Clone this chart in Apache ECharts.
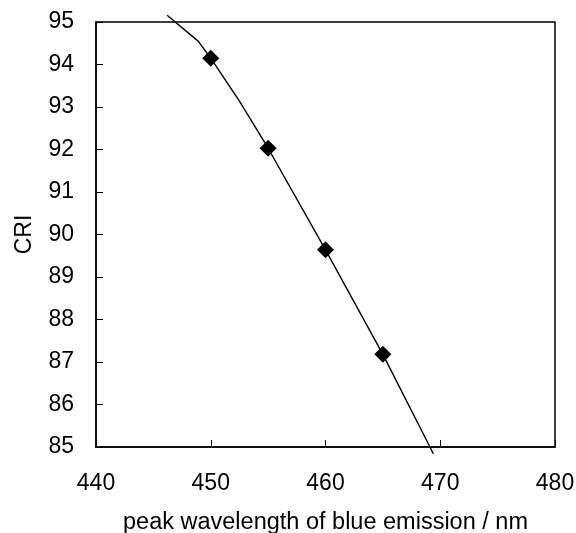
<!DOCTYPE html>
<html>
<head>
<meta charset="utf-8">
<script src="https://cdn.jsdelivr.net/npm/echarts@6/dist/echarts.min.js"></script>
<style>html,body{margin:0;padding:0;background:#fff}#c{width:576px;height:533px}</style>
</head>
<body>
<div id="c"></div>
<script>
// measured points
const wavelength = [450, 455, 460, 465];
const cri = [94.15, 92.03, 89.64, 87.18];
// trend line
const trendX = [446.2, 448.9, 450, 452.5, 455, 460, 465, 469.4];
const trendY = [95.16, 94.55, 94.15, 93.14, 92.03, 89.64, 87.18, 84.84];

const chart = echarts.init(document.getElementById('c'));
const font = 'Liberation Sans, Arial, sans-serif';
chart.setOption({
  animation: false,
  grid: {left: 96, right: 21, top: 22, bottom: 86, outerBoundsMode: 'none', containLabel: false,
         show: true, borderColor: '#000', borderWidth: 1.5, backgroundColor: 'transparent'},
  xAxis: {
    type: 'value', min: 440, max: 480, interval: 10,
    name: 'peak wavelength of blue emission / nm', nameLocation: 'middle', nameGap: 64,
    nameTextStyle: {color: '#000', fontSize: 23.5, fontFamily: font},
    axisLine: {show: true, onZero: false, lineStyle: {color: '#000', width: 1.5}},
    axisTick: {show: true, inside: true, length: 7, lineStyle: {color: '#000', width: 1}},
    axisLabel: {color: '#000', fontSize: 23, fontFamily: font, margin: 25},
    splitLine: {show: false}
  },
  yAxis: {
    type: 'value', min: 85, max: 95, interval: 1,
    name: 'CRI', nameLocation: 'middle', nameGap: 60, nameRotate: 90,
    nameTextStyle: {color: '#000', fontSize: 23, fontFamily: font},
    axisLine: {show: true, onZero: false, lineStyle: {color: '#000', width: 1.5}},
    axisTick: {show: true, inside: true, length: 7, lineStyle: {color: '#000', width: 1}},
    axisLabel: {color: '#000', fontSize: 23, fontFamily: font, margin: 22},
    splitLine: {show: false}
  },
  series: [
    {
      type: 'line', data: trendX.map((x, i) => [x, trendY[i]]),
      showSymbol: false, symbol: 'none', clip: false,
      lineStyle: {color: '#000', width: 1.4}, z: 2
    },
    {
      type: 'scatter', data: wavelength.map((x, i) => [x, cri[i]]),
      symbol: 'diamond', symbolSize: 17,
      itemStyle: {color: '#000', opacity: 1}, z: 3
    }
  ]
});
</script>
</body>
</html>
